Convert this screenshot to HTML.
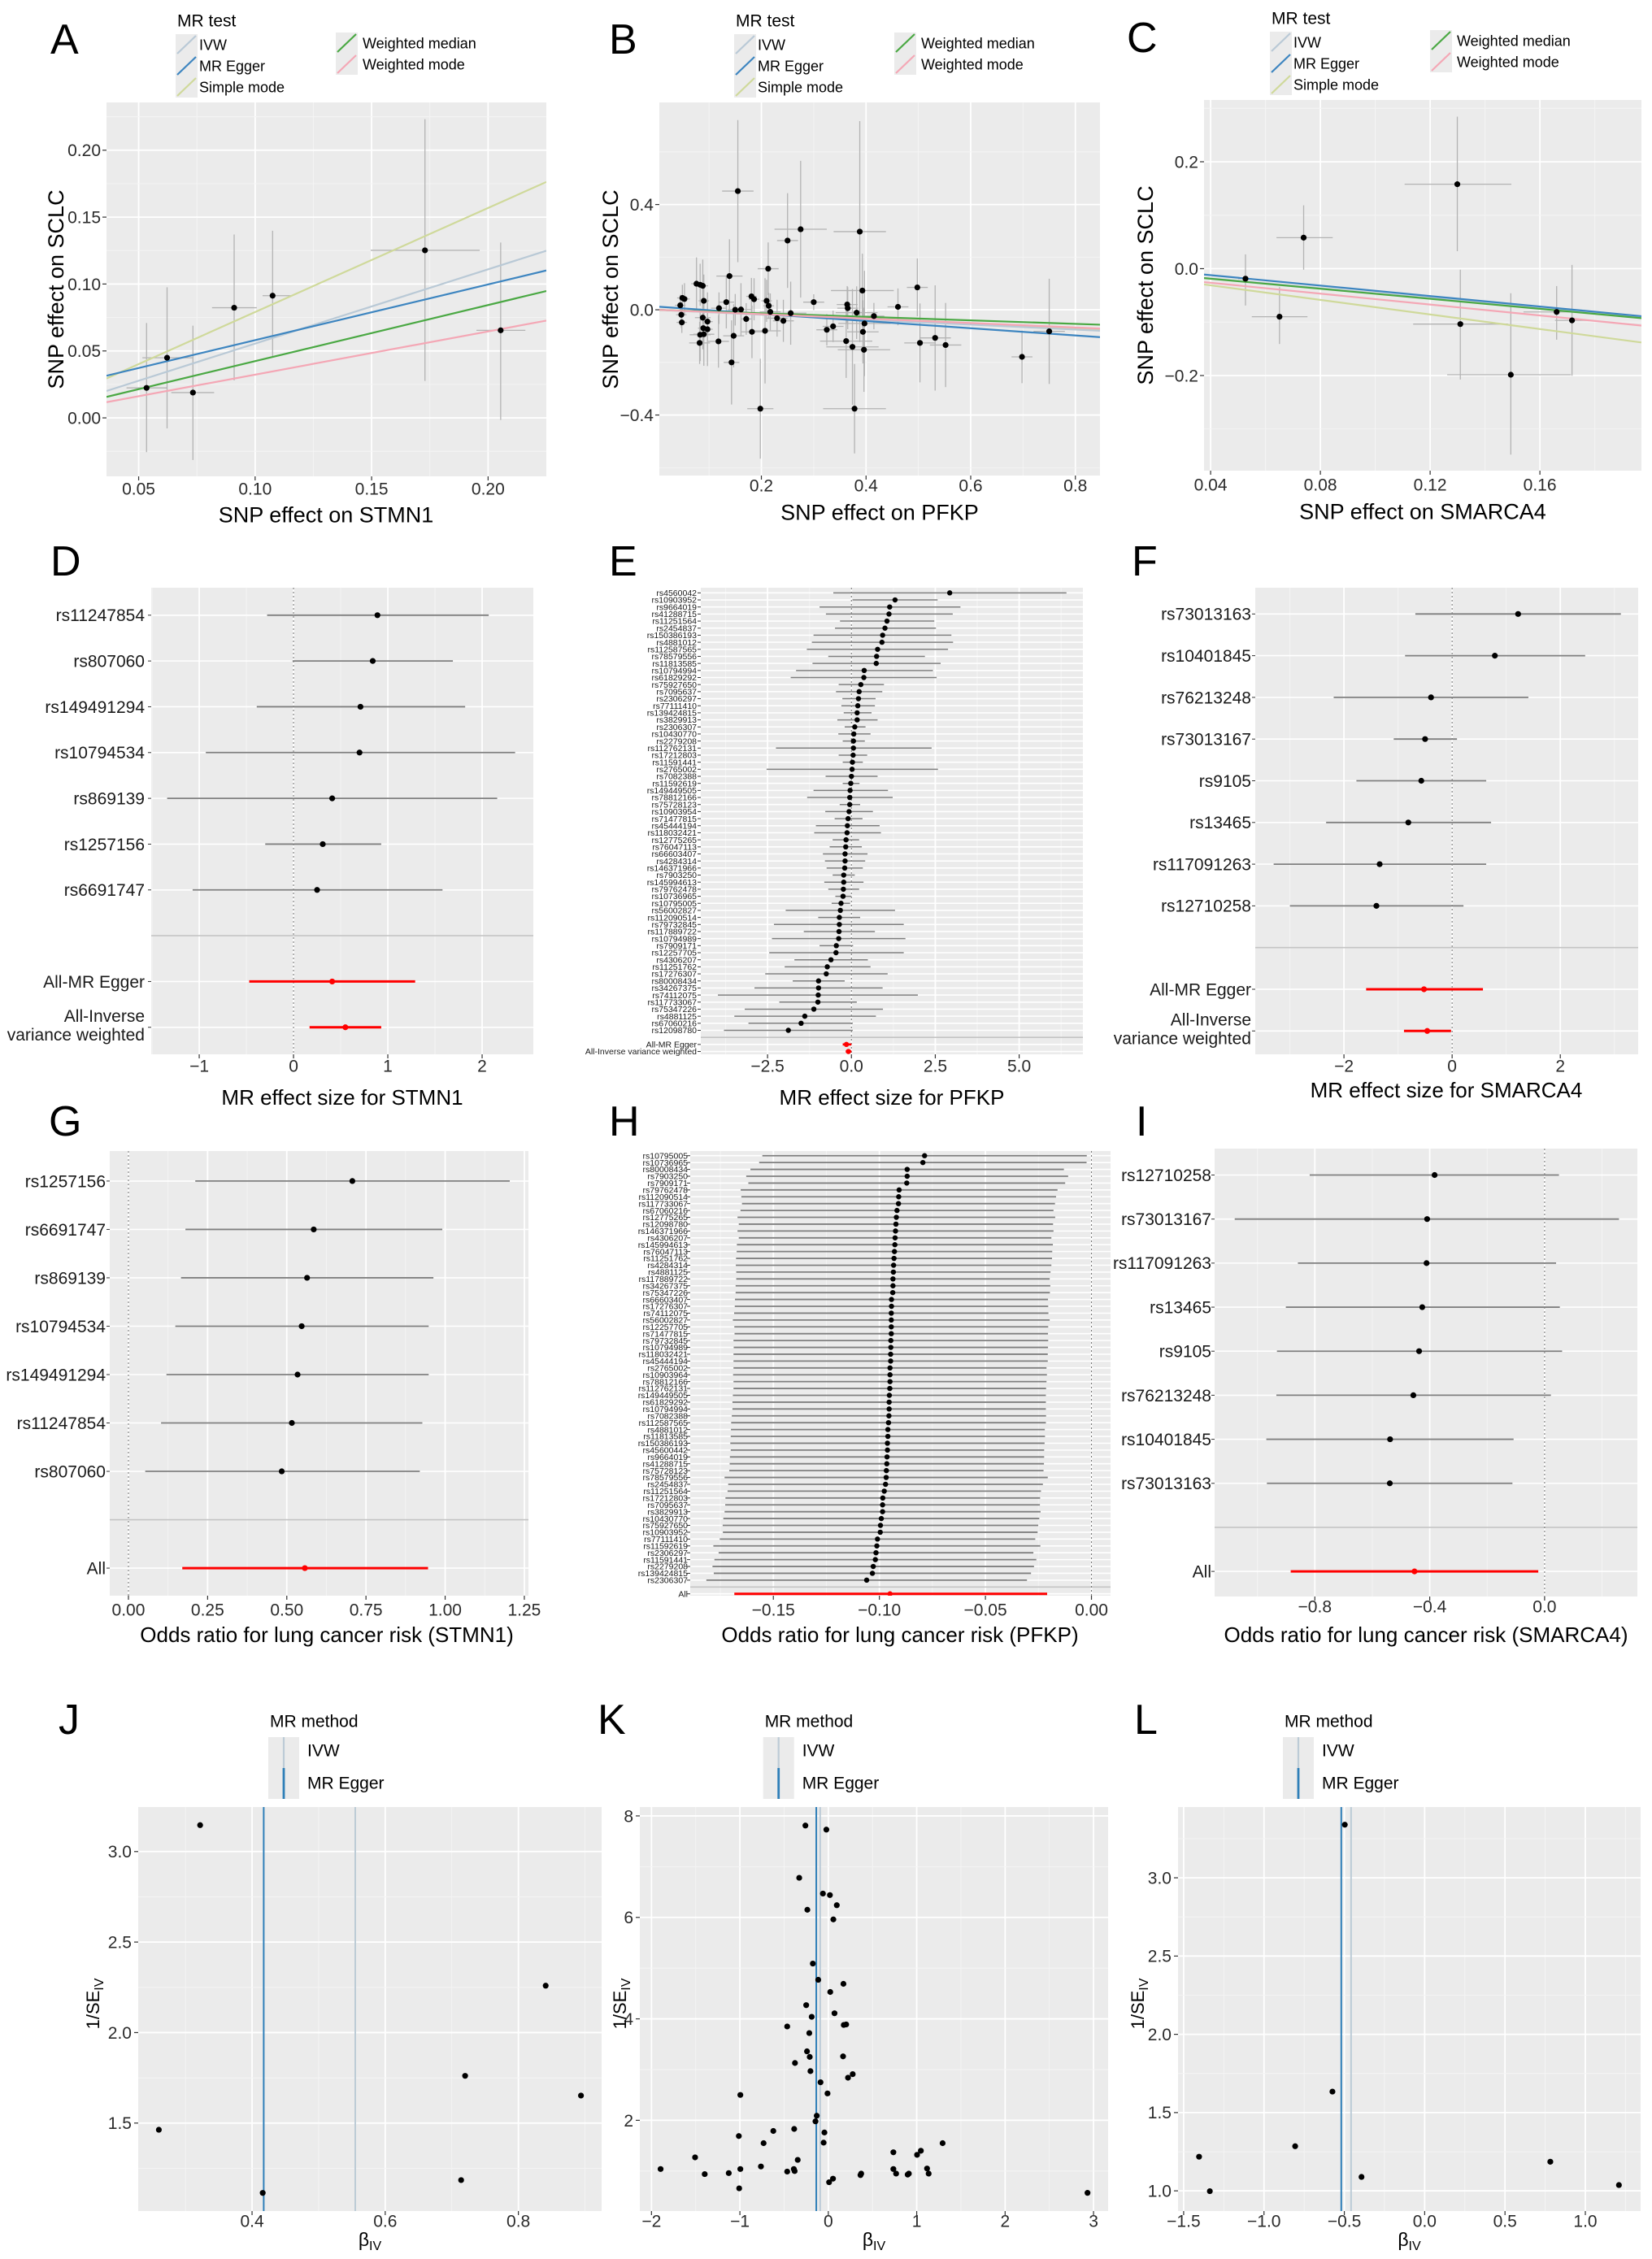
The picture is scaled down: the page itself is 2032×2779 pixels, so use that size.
<!DOCTYPE html>
<html><head><meta charset="utf-8"><title>MR analysis figure</title>
<style>
html,body{margin:0;padding:0;background:#fff;}
svg{display:block;font-family:"Liberation Sans",Arial,sans-serif;}
</style></head>
<body>
<svg id="fig" xmlns="http://www.w3.org/2000/svg" width="2032" height="2779" viewBox="0 0 2032 2779"></svg>
<script>
// ---------------- DATA ----------------
const aX=[0.0534,0.0622,0.0733,0.0910,0.1075,0.1729,0.2054];
const aY=[0.0224,0.0449,0.0189,0.0823,0.0913,0.1252,0.0654];
const aXlo=[0.0448,0.0516,0.0640,0.0815,0.1032,0.1496,0.1950];
const aXhi=[0.0624,0.0731,0.0824,0.1007,0.1160,0.1964,0.2160];
const aYlo=[-0.0256,-0.0079,-0.0315,0.028,0.0457,0.0276,-0.0016];
const aYhi=[0.0709,0.0976,0.0689,0.137,0.1398,0.2232,0.131];
const methods=["IVW","MR Egger","Simple mode","Weighted median","Weighted mode"];
const methodColors=["#b9c9d6","#3d85c0","#cfd99a","#4aa843","#f4a7b5"];
const aSlope=[0.555,0.4166,0.7777,0.419,0.323];
const aIntercept=[0,0.0164,0.0013,0.0005,0];
const bX=[0.155,0.275,0.388,0.250,0.213,0.139,0.076,0.083,0.088,0.498,0.393,0.181,0.049,0.053,0.186,0.090,0.210,0.300,0.133,0.364,0.045,0.214,0.461,0.365,0.119,0.150,0.161,0.217,0.382,0.256,0.047,0.415,0.088,0.230,0.171,0.242,0.097,0.048,0.397,0.337,0.089,0.097,0.325,0.207,0.182,0.394,0.090,0.083,0.147,0.532,0.362,0.118,0.082,0.503,0.552,0.374,0.396,0.750,0.698,0.143,0.198,0.378];
const bY=[0.451,0.306,0.297,0.263,0.156,0.128,0.099,0.095,0.091,0.085,0.073,0.051,0.045,0.041,0.040,0.034,0.034,0.029,0.029,0.020,0.017,0.015,0.011,0.006,0.006,0.000,0.001,-0.008,-0.011,-0.013,-0.019,-0.024,-0.030,-0.032,-0.035,-0.042,-0.045,-0.048,-0.052,-0.063,-0.070,-0.074,-0.076,-0.080,-0.084,-0.084,-0.093,-0.095,-0.099,-0.107,-0.119,-0.120,-0.126,-0.126,-0.134,-0.141,-0.152,-0.082,-0.179,-0.200,-0.376,-0.376];
const bSeY=[0.27,0.26,0.42,0.18,0.1,0.14,0.1,0.08,0.1,0.11,0.14,0.07,0.05,0.06,0.08,0.1,0.08,0.03,0.1,0.07,0.04,0.05,0.07,0.08,0.06,0.06,0.1,0.07,0.1,0.12,0.05,0.05,0.12,0.07,0.06,0.08,0.05,0.04,0.2,0.06,0.08,0.14,0.06,0.2,0.1,0.12,0.12,0.1,0.12,0.2,0.14,0.1,0.08,0.15,0.16,0.22,0.16,0.2,0.1,0.16,0.19,0.17];
const bSeX=[0.03,0.05,0.05,0.02,0.02,0.025,0.01,0.01,0.01,0.02,0.06,0.01,0.01,0.01,0.01,0.01,0.01,0.02,0.015,0.02,0.01,0.01,0.02,0.02,0.015,0.015,0.02,0.02,0.04,0.03,0.01,0.02,0.015,0.02,0.01,0.02,0.01,0.01,0.05,0.02,0.01,0.01,0.02,0.03,0.02,0.03,0.02,0.02,0.02,0.03,0.05,0.02,0.02,0.03,0.03,0.05,0.05,0.03,0.02,0.015,0.025,0.06];
const bSlope=[-0.094,-0.137,-0.09,-0.067,-0.084];
const bIntercept=[0,0.012,0,0,0];
const cX=[0.0527,0.0739,0.0651,0.1299,0.1310,0.1494,0.1661,0.1717];
const cY=[-0.0188,0.058,-0.0899,0.158,-0.1037,-0.1985,-0.081,-0.0968];
const cXlo=[0.050,0.064,0.055,0.1107,0.1138,0.1262,0.154,0.1655];
const cXhi=[0.055,0.0845,0.0753,0.1496,0.1483,0.1713,0.178,0.178];
const cYlo=[-0.069,-0.002,-0.141,0.0326,-0.2074,-0.348,-0.133,-0.2005];
const cYhi=[0.0267,0.1185,-0.0346,0.2844,-0.002,-0.046,-0.0326,0.007];
const cSlope=[-0.458,-0.489,-0.681,-0.47,-0.51];
const cIntercept=[0,0.0074,-0.004,0,-0.006];
const dSnps=["rs11247854","rs807060","rs149491294","rs10794534","rs869139","rs1257156","rs6691747"];
const dB=[0.89,0.84,0.71,0.70,0.41,0.31,0.25];
const dLo=[-0.28,-0.01,-0.39,-0.93,-1.34,-0.30,-1.07];
const dHi=[2.07,1.69,1.82,2.35,2.16,0.93,1.58];
const dSumB=[0.41,0.55];const dSumLo=[-0.47,0.17];const dSumHi=[1.29,0.93];
const eSnps=["rs4560042","rs10903952","rs9664019","rs41288715","rs11251564","rs2454837","rs150386193","rs4881012","rs112587565","rs78579556","rs11813585","rs10794994","rs61829292","rs75927650","rs7095637","rs2306297","rs77111410","rs139424815","rs3829913","rs2306307","rs10430770","rs2279208","rs112762131","rs17212803","rs11591441","rs2765002","rs7082388","rs11592619","rs149449505","rs78812166","rs75728123","rs10903954","rs71477815","rs45444194","rs118032421","rs12775265","rs76047113","rs66603407","rs4284314","rs146371966","rs7903250","rs145994613","rs79762478","rs10736965","rs10795005","rs56002827","rs112090514","rs79732845","rs117889722","rs10794989","rs7909171","rs12257705","rs4306207","rs11251762","rs17276307","rs80008434","rs34267375","rs74112075","rs117733067","rs75347226","rs4881125","rs67060216","rs12098780"];
const eB=[2.93,1.30,1.14,1.12,1.06,1.00,0.93,0.91,0.78,0.75,0.74,0.38,0.37,0.28,0.23,0.21,0.19,0.17,0.17,0.10,0.07,0.06,0.06,0.05,0.03,0.02,0.00,-0.02,-0.04,-0.05,-0.05,-0.07,-0.10,-0.12,-0.13,-0.16,-0.17,-0.19,-0.19,-0.20,-0.23,-0.23,-0.24,-0.25,-0.31,-0.33,-0.36,-0.36,-0.37,-0.38,-0.45,-0.46,-0.61,-0.72,-0.75,-0.98,-0.98,-0.99,-1.00,-1.12,-1.39,-1.50,-1.88];
const eLo=[-0.54,0.03,-0.95,-0.76,-0.34,-0.49,-1.13,-1.18,-1.33,-0.69,-1.16,-1.65,-1.81,-0.38,-0.46,-0.27,-0.30,-0.23,-0.42,-0.20,-0.39,-0.26,-2.25,-0.38,-0.26,-2.53,-0.77,-0.26,-1.13,-1.32,-0.35,-0.78,-0.50,-1.06,-1.11,-0.56,-0.65,-0.85,-0.79,-0.74,-0.56,-0.81,-0.69,-0.48,-0.59,-1.96,-0.99,-2.31,-1.42,-2.37,-0.95,-2.45,-1.70,-1.99,-2.57,-1.75,-2.89,-3.98,-2.15,-3.18,-3.49,-3.07,-3.80];
const eHi=[6.41,2.57,3.25,3.02,2.47,2.52,2.98,3.03,2.88,2.19,2.66,2.43,2.54,0.97,0.92,0.72,0.70,0.60,0.78,0.42,0.57,0.40,2.39,0.47,0.34,2.58,0.78,0.24,1.09,1.23,0.26,0.64,0.33,0.84,0.88,0.23,0.31,0.48,0.41,0.34,0.10,0.36,0.23,0.00,-0.04,1.30,0.26,1.56,0.70,1.61,0.05,1.56,0.49,0.57,1.08,-0.20,0.93,1.98,0.16,0.94,0.73,0.04,0.04];
const eSumB=[-0.15,-0.09];const eSumLo=[-0.26,-0.17];const eSumHi=[0.0,0.0];
const fSnps=["rs73013163","rs10401845","rs76213248","rs73013167","rs9105","rs13465","rs117091263","rs12710258"];
const fB=[1.22,0.79,-0.39,-0.50,-0.57,-0.81,-1.34,-1.40];
const fLo=[-0.68,-0.87,-2.19,-1.08,-1.77,-2.33,-3.30,-3.0];
const fHi=[3.12,2.46,1.41,0.09,0.63,0.72,0.63,0.21];
const fSumB=[-0.52,-0.46];const fSumLo=[-1.59,-0.89];const fSumHi=[0.57,-0.02];
const gSnps=["rs1257156","rs6691747","rs869139","rs10794534","rs149491294","rs11247854","rs807060"];
const gB=[0.707,0.585,0.564,0.547,0.534,0.516,0.484];
const gLo=[0.211,0.18,0.166,0.148,0.12,0.103,0.053];
const gHi=[1.204,0.991,0.963,0.948,0.948,0.928,0.92];
const gSumB=[0.557];const gSumLo=[0.17];const gSumHi=[0.946];
const hSnps=["rs10795005","rs10736965","rs80008434","rs7903250","rs7909171","rs79762478","rs112090514","rs117733067","rs67060216","rs12775265","rs12098780","rs146371966","rs4306207","rs145994613","rs76047113","rs11251762","rs4284314","rs4881125","rs117889722","rs34267375","rs75347226","rs66603407","rs17276307","rs74112075","rs56002827","rs12257705","rs71477815","rs79732845","rs10794989","rs118032421","rs45444194","rs2765002","rs10903964","rs78812166","rs112762131","rs149449505","rs61829292","rs10794994","rs7082388","rs112587565","rs4881012","rs11813585","rs150386193","rs45600442","rs9664019","rs41288715","rs75728123","rs78579556","rs2454837","rs11251564","rs17212803","rs7095637","rs3829913","rs10430770","rs75927650","rs10903952","rs77111410","rs11592619","rs2306297","rs11591441","rs2279208","rs139424815","rs2306307"];
const hB=[-0.0787,-0.0795,-0.0869,-0.0869,-0.0871,-0.0907,-0.0909,-0.0910,-0.0917,-0.0920,-0.0922,-0.0924,-0.0926,-0.0927,-0.0929,-0.0931,-0.0933,-0.0934,-0.0936,-0.0936,-0.0937,-0.0943,-0.0943,-0.0944,-0.0944,-0.0944,-0.0944,-0.0946,-0.0946,-0.0947,-0.0947,-0.0950,-0.0950,-0.0950,-0.0951,-0.0953,-0.0954,-0.0954,-0.0955,-0.0957,-0.0960,-0.0960,-0.0962,-0.0962,-0.0964,-0.0965,-0.0967,-0.0968,-0.0971,-0.0977,-0.0984,-0.0985,-0.0985,-0.0991,-0.0995,-0.0996,-0.1009,-0.1012,-0.1016,-0.1019,-0.1029,-0.1033,-0.1060];
const hHalf=[0.0765,0.0772,0.0739,0.0759,0.0747,0.0747,0.0742,0.0738,0.0738,0.0749,0.0741,0.0745,0.0737,0.0745,0.0744,0.0745,0.0744,0.0741,0.0739,0.0742,0.0741,0.0738,0.0739,0.0741,0.0747,0.0740,0.0739,0.0742,0.0741,0.0741,0.0741,0.0738,0.0740,0.0738,0.0737,0.0738,0.0739,0.0739,0.0741,0.0742,0.0740,0.0741,0.0741,0.0739,0.0741,0.0741,0.0741,0.0762,0.0742,0.0739,0.0742,0.0742,0.0745,0.0745,0.0744,0.0742,0.0744,0.0771,0.0742,0.0759,0.0758,0.0748,0.0756];
const hSumB=[-0.0950];const hSumLo=[-0.1684];const hSumHi=[-0.0209];
const iSnps=["rs12710258","rs73013167","rs117091263","rs13465","rs9105","rs76213248","rs10401845","rs73013163"];
const iB=[-0.383,-0.409,-0.411,-0.426,-0.437,-0.457,-0.538,-0.539];
const iLo=[-0.818,-1.079,-0.859,-0.901,-0.932,-0.934,-0.969,-0.967];
const iHi=[0.05,0.259,0.04,0.053,0.061,0.022,-0.108,-0.112];
const iSumB=[-0.453];const iSumLo=[-0.884];const iSumHi=[-0.022];
const jB=[0.322,0.260,0.416,0.720,0.714,0.841,0.894];
const jInv=[3.146,1.463,1.114,1.761,1.185,2.259,1.652];
const jIvw=0.555, jEgger=0.4175;
const kB=[-0.259,-0.022,-0.329,-0.061,0.018,0.096,-0.237,0.057,-0.175,-0.114,0.171,0.022,-0.250,0.070,-0.188,-0.465,0.175,0.202,-0.215,-0.241,-0.210,0.167,-0.377,-0.202,0.276,0.223,-0.088,-0.009,-0.995,-0.131,-0.145,-0.386,-0.622,-1.012,-0.044,-0.732,-0.053,1.293,0.736,1.047,1.004,-1.507,-0.346,-0.762,-1.897,-0.995,0.736,1.117,-0.465,-0.381,-0.390,-1.126,-1.398,0.767,0.911,0.898,1.135,0.372,0.364,0.053,0.009,-1.008,2.932];
const kInv=[7.81,7.73,6.78,6.47,6.44,6.24,6.15,5.96,5.09,4.77,4.69,4.53,4.27,4.11,4.04,3.85,3.88,3.89,3.72,3.36,3.25,3.26,3.13,2.97,2.91,2.84,2.75,2.53,2.50,2.09,1.98,1.83,1.79,1.69,1.76,1.55,1.56,1.55,1.37,1.40,1.32,1.27,1.22,1.09,1.04,1.04,1.04,1.05,0.99,1.00,1.04,0.96,0.94,0.95,0.95,0.93,0.95,0.95,0.92,0.85,0.78,0.66,0.57];
const kIvw=-0.092, kEgger=-0.136;
const lB=[-0.497,-0.574,-0.806,-1.404,-1.337,-0.393,0.782,1.209];
const lInv=[3.339,1.634,1.285,1.218,0.998,1.089,1.186,1.037];
const lIvw=-0.458, lEgger=-0.519;

// ---------------- HELPERS ----------------
const NS="http://www.w3.org/2000/svg";
const svg=document.getElementById("fig");
const IVW_COL="#bccbd6", EGGER_COL="#2f7fb8";
function mk(tag,name,parent){
  const e=document.createElementNS(NS,tag);
  
  
  (parent||svg).appendChild(e);
  return e;
}
function set(e,o){for(const k in o)e.setAttribute(k,o[k]);return e;}
function txt(name,x,y,s,size,anchor,parent,fill){
  const t=mk("text",name,parent);
  set(t,{x:x,y:y+size*0.35,"font-size":size,"text-anchor":anchor||"start",fill:fill||"#000"});
  t.textContent=s;return t;
}
function ln(name,x1,y1,x2,y2,stroke,w,parent){
  const l=mk("line",name,parent);
  set(l,{x1:x1,y1:y1,x2:x2,y2:y2,stroke:stroke,"stroke-width":w});return l;
}
function dot(name,x,y,r,fill,parent){
  const c=mk("circle",name,parent);set(c,{cx:x,cy:y,r:r,fill:fill});return c;
}
function fmt(v,d){const s=Math.abs(v).toFixed(d);return (v<-1e-9?"\u2212":"")+s;}
function frame(name,box,xd,yd,yDown){
  const g=mk("g",name);
  const sx=v=>box.x0+(v-xd[0])/(xd[1]-xd[0])*(box.x1-box.x0);
  const sy=yDown?(v=>box.y0+(v-yd[0])/(yd[1]-yd[0])*(box.y1-box.y0))
                :(v=>box.y1-(v-yd[0])/(yd[1]-yd[0])*(box.y1-box.y0));
  const r=mk("rect","panel-background",g);
  set(r,{x:box.x0,y:box.y0,width:box.x1-box.x0,height:box.y1-box.y0,fill:"#ebebeb"});
  const cp=mk("clipPath","clip-"+name,g);cp.setAttribute("id","clip-"+name);
  const cr=mk("rect","clip-rect",cp);set(cr,{x:box.x0,y:box.y0,width:box.x1-box.x0,height:box.y1-box.y0});
  const inner=mk("g","plot-area",g);inner.setAttribute("clip-path","url(#clip-"+name+")");
  return {g,inner,sx,sy,box};
}
function xAxis(P,major,minor,dec,labelY,size){
  const b=P.box;
  minor.forEach(v=>ln("x-minor-gridline",P.sx(v),b.y0,P.sx(v),b.y1,"#f5f5f5",0.9,P.inner));
  major.forEach(v=>{
    ln("x-major-gridline",P.sx(v),b.y0,P.sx(v),b.y1,"#ffffff",1.8,P.inner);
    ln("x-tick",P.sx(v),b.y1,P.sx(v),b.y1+5,"#333",1.2,P.g);
    txt("x-tick-label",P.sx(v),labelY,fmt(v,dec),size||21,"middle",P.g,"#2b2b2b");
  });
}
function yAxis(P,major,minor,dec,labelX,size){
  const b=P.box;
  minor.forEach(v=>ln("y-minor-gridline",b.x0,P.sy(v),b.x1,P.sy(v),"#f5f5f5",0.9,P.inner));
  major.forEach(v=>{
    ln("y-major-gridline",b.x0,P.sy(v),b.x1,P.sy(v),"#ffffff",1.8,P.inner);
    ln("y-tick",b.x0-5,P.sy(v),b.x0,P.sy(v),"#333",1.2,P.g);
    txt("y-tick-label",labelX,P.sy(v),fmt(v,dec),size||21,"end",P.g,"#2b2b2b");
  });
}
function letter(s,x,y){txt("panel-label-"+s.toLowerCase(),x,y,s,52,"start",svg);}
function yTitle(name,x,y,s,size){
  const t=mk("text",name);
  set(t,{x:0,y:0,"font-size":size,"text-anchor":"middle",transform:"translate("+x+","+y+") rotate(-90)"});
  t.textContent=s;return t;
}
function drawScatter(P,X,Y,xlo,xhi,ylo,yhi,slopes,ints,xd){
  for(let i=0;i<X.length;i++){
    ln("error-bar-y",P.sx(X[i]),P.sy(ylo[i]),P.sx(X[i]),P.sy(yhi[i]),"#b3b3b3",1.3,P.inner);
    ln("error-bar-x",P.sx(xlo[i]),P.sy(Y[i]),P.sx(xhi[i]),P.sy(Y[i]),"#b3b3b3",1.3,P.inner);
  }
  const order=[2,0,1,3,4];
  order.forEach(m=>{
    ln("fit-line-"+methods[m].toLowerCase().replace(/ /g,"-"),P.sx(xd[0]),P.sy(ints[m]+slopes[m]*xd[0]),P.sx(xd[1]),P.sy(ints[m]+slopes[m]*xd[1]),methodColors[m],2.2,P.inner);
  });
  for(let i=0;i<X.length;i++) dot("snp-point",P.sx(X[i]),P.sy(Y[i]),3.6,"#000",P.inner);
}
function mrTestLegend(dx,dy){
  const g=mk("g","legend-mr-test");
  txt("legend-title",218+dx,25+dy,"MR test",21,"start",g);
  const pos=[[216,42,245],[216,68,245],[216,94,245],[413,40,446],[413,66,446]];
  methods.forEach((m,i)=>{
    const p=pos[i];
    const k=mk("rect","legend-key",g);set(k,{x:p[0]+dx,y:p[1]+dy,width:27,height:26,fill:"#ebebeb"});
    ln("legend-key-line",p[0]+dx+2,p[1]+dy+24,p[0]+dx+25,p[1]+dy+2,methodColors[i],2.2,g);
    txt("legend-label",p[2]+dx,p[1]+dy+13,m,18,"start",g);
  });
}
function forestPanel(name,box,xd,yd,snps,B,Lo,Hi,sumB,sumLo,sumHi,sepRow,sumRows,sumLabels,major,minor,dec,labelRight,labelSize,tickY,lw,pr){
  const P=frame(name,box,xd,yd,true);
  minor.forEach(v=>ln("x-minor-gridline",P.sx(v),box.y0,P.sx(v),box.y1,"#f5f5f5",0.9,P.inner));
  major.forEach(v=>{
    ln("x-major-gridline",P.sx(v),box.y0,P.sx(v),box.y1,"#ffffff",1.8,P.inner);
    ln("x-tick",P.sx(v),box.y1,P.sx(v),box.y1+5,"#333",1.2,P.g);
    txt("x-tick-label",P.sx(v),tickY,fmt(v,dec),21,"middle",P.g,"#2b2b2b");
  });
  const rows=snps.map((s,i)=>i).concat(sumRows);
  rows.forEach(r=>{
    ln("y-gridline",box.x0,P.sy(r),box.x1,P.sy(r),"#ffffff",1.6,P.inner);
    ln("y-tick",box.x0-4,P.sy(r),box.x0,P.sy(r),"#333",1,P.g);
  });
  ln("separator-line",box.x0,P.sy(sepRow),box.x1,P.sy(sepRow),"#c4c4c4",1.6,P.inner);
  const z=ln("zero-line",P.sx(0),box.y0,P.sx(0),box.y1,"#777",1.1,P.inner);z.setAttribute("stroke-dasharray","2,3");
  for(let i=0;i<snps.length;i++){
    ln("snp-ci",P.sx(Lo[i]),P.sy(i),P.sx(Hi[i]),P.sy(i),"#7f7f7f",lw,P.inner);
    dot("snp-estimate",P.sx(B[i]),P.sy(i),pr,"#000",P.inner);
    txt("snp-label",labelRight,P.sy(i),snps[i],labelSize,"end",P.g,"#1a1a1a");
  }
  for(let j=0;j<sumB.length;j++){
    ln("summary-ci",P.sx(sumLo[j]),P.sy(sumRows[j]),P.sx(sumHi[j]),P.sy(sumRows[j]),"#ff0000",lw+1.2,P.inner);
    dot("summary-estimate",P.sx(sumB[j]),P.sy(sumRows[j]),pr,"#ff0000",P.inner);
  }
  sumLabels.forEach((lab,j)=>{
    if(Array.isArray(lab)){
      txt("summary-label",labelRight,P.sy(sumRows[j])-14,lab[0],labelSize,"end",P.g,"#1a1a1a");
      txt("summary-label",labelRight,P.sy(sumRows[j])+9,lab[1],labelSize,"end",P.g,"#1a1a1a");
    } else txt("summary-label",labelRight,P.sy(sumRows[j]),lab,labelSize,"end",P.g,"#1a1a1a");
  });
  return P;
}
function funnelPanel(name,box,xd,yd,B,Inv,ivw,egger,xmaj,xmin,xdec,ymaj,ymin,ydec){
  const P=frame(name,box,xd,yd,false);
  xAxis(P,xmaj,xmin,xdec,2732,21);
  yAxis(P,ymaj,ymin,ydec,box.x0-8,21);
  ln("ivw-line",P.sx(ivw),box.y0,P.sx(ivw),box.y1,IVW_COL,2,P.inner);
  ln("mr-egger-line",P.sx(egger),box.y0,P.sx(egger),box.y1,EGGER_COL,2,P.inner);
  for(let i=0;i<B.length;i++) dot("snp-point",P.sx(B[i]),P.sy(Inv[i]),3.6,"#000",P.inner);
  const cx=(box.x0+box.x1)/2;
  const t=mk("text","x-axis-title",P.g);set(t,{x:cx,y:2763,"font-size":23,"text-anchor":"middle"});
  t.textContent="\u03b2";
  const ts=mk("tspan","subscript",t);set(ts,{"font-size":16,dy:5});ts.textContent="IV";
  return P;
}
function funnelYTitle(x,y){
  const t=mk("text","y-axis-title");
  set(t,{x:0,y:0,"font-size":22,"text-anchor":"middle",transform:"translate("+x+","+y+") rotate(-90)"});
  t.textContent="1/SE";
  const ts=mk("tspan","subscript",t);set(ts,{"font-size":16,dy:5});ts.textContent="IV";
}
function methodLegend(dx){
  const g=mk("g","legend-mr-method");
  txt("legend-title",332+dx,2117,"MR method",21,"start",g);
  const k=mk("rect","legend-key",g);set(k,{x:330+dx,y:2137,width:38,height:76,fill:"#ebebeb"});
  ln("legend-key-ivw",349+dx,2137,349+dx,2175,IVW_COL,2.2,g);
  ln("legend-key-egger",349+dx,2175,349+dx,2213,EGGER_COL,2.8,g);
  txt("legend-label",378+dx,2153,"IVW",21,"start",g);
  txt("legend-label",378+dx,2193,"MR Egger",21,"start",g);
}

// ---------------- BUILD ----------------
letter("A",62,48);letter("B",749,48);letter("C",1386,46);
mrTestLegend(0,0);mrTestLegend(687,0);mrTestLegend(1346,-3);
const xdA=[0.0362,0.225],ydA=[-0.0437,0.2357];
const PA=frame("panel-a",{x0:131,y0:126,x1:672,y1:586},xdA,ydA,false);
xAxis(PA,[0.05,0.10,0.15,0.20],[0.075,0.125,0.175],2,601);
yAxis(PA,[0,0.05,0.10,0.15,0.20],[-0.025,0.025,0.075,0.125,0.175,0.225],2,124);
drawScatter(PA,aX,aY,aXlo,aXhi,aYlo,aYhi,aSlope,aIntercept,xdA);
txt("x-axis-title",401,633,"SNP effect on STMN1",27,"middle");
yTitle("y-axis-title",78,356,"SNP effect on SCLC",27);

const xdB=[0.005,0.847],ydB=[-0.630,0.788];
const PB=frame("panel-b",{x0:811,y0:126,x1:1353,y1:585},xdB,ydB,false);
xAxis(PB,[0.2,0.4,0.6,0.8],[0.1,0.3,0.5,0.7],1,597);
yAxis(PB,[-0.4,0,0.4],[-0.6,-0.2,0.2,0.6],1,804);
drawScatter(PB,bX,bY,bX.map((v,i)=>v-bSeX[i]),bX.map((v,i)=>v+bSeX[i]),bY.map((v,i)=>v-bSeY[i]),bY.map((v,i)=>v+bSeY[i]),bSlope,bIntercept,xdB);
txt("x-axis-title",1082,630,"SNP effect on PFKP",27,"middle");
yTitle("y-axis-title",760,356,"SNP effect on SCLC",27);

const xdC=[0.0376,0.197],ydC=[-0.378,0.3156];
const PC=frame("panel-c",{x0:1481,y0:123,x1:2019,y1:579},xdC,ydC,false);
xAxis(PC,[0.04,0.08,0.12,0.16],[0.06,0.10,0.14,0.18],2,596);
yAxis(PC,[-0.2,0,0.2],[-0.3,-0.1,0.1,0.3],1,1474);
drawScatter(PC,cX,cY,cXlo,cXhi,cYlo,cYhi,cSlope,cIntercept,xdC);
txt("x-axis-title",1750,629,"SNP effect on SMARCA4",27,"middle");
yTitle("y-axis-title",1418,351,"SNP effect on SCLC",27);

letter("D",62,690);letter("E",749,690);letter("F",1392,690);
forestPanel("panel-d",{x0:186,y0:723,x1:656,y1:1297},[-1.509,2.543],[-0.6,9.59],dSnps,dB,dLo,dHi,dSumB,dSumLo,dSumHi,7,[8,9],["All-MR Egger",["All-Inverse","variance weighted"]],[-1,0,1,2],[-1.5,-0.5,0.5,1.5],0,178,21,1311,1.8,3.6);
txt("x-axis-title",421,1350,"MR effect size for STMN1",26,"middle");
forestPanel("panel-e",{x0:862,y0:723,x1:1332,y1:1297},[-4.49,6.9],[-0.73,65.4],eSnps,eB,eLo,eHi,eSumB,eSumLo,eSumHi,63,[64,65],["All-MR Egger","All-Inverse variance weighted"],[-2.5,0,2.5,5],[-3.75,-1.25,1.25,3.75,6.25],1,857,10.5,1311,1.5,3.2);
txt("x-axis-title",1097,1350,"MR effect size for PFKP",26,"middle");
forestPanel("panel-f",{x0:1544,y0:723,x1:2015,y1:1297},[-3.64,3.44],[-0.63,10.56],fSnps,fB,fLo,fHi,fSumB,fSumLo,fSumHi,8,[9,10],["All-MR Egger",["All-Inverse","variance weighted"]],[-2,0,2],[-3,-1,1,3],0,1539,21,1311,1.8,3.6);
txt("x-axis-title",1779,1341,"MR effect size for SMARCA4",26,"middle");

letter("G",60,1379);letter("H",749,1379);letter("I",1397,1379);
forestPanel("panel-g",{x0:135,y0:1416,x1:650,y1:1963},[-0.059,1.263],[-0.62,8.57],gSnps,gB,gLo,gHi,gSumB,gSumLo,gSumHi,7,[8],["All"],[0,0.25,0.5,0.75,1.0,1.25],[0.125,0.375,0.625,0.875,1.125],2,130,21,1980,1.8,3.6);
txt("x-axis-title",402,2011,"Odds ratio for lung cancer risk (STMN1)",26,"middle");
forestPanel("panel-h",{x0:849,y0:1416,x1:1366,y1:1963},[-0.1892,0.009],[-0.68,64.27],hSnps,hB,hB.map((v,i)=>v-hHalf[i]),hB.map((v,i)=>v+hHalf[i]),hSumB,hSumLo,hSumHi,63,[64],["All"],[-0.15,-0.10,-0.05,0],[-0.175,-0.125,-0.075,-0.025],2,846,10.5,1980,1.8,3.2);
txt("x-axis-title",1107,2011,"Odds ratio for lung cancer risk (PFKP)",26,"middle");
forestPanel("panel-i",{x0:1494,y0:1413,x1:2014,y1:1964},[-1.149,0.323],[-0.6,9.57],iSnps,iB,iLo,iHi,iSumB,iSumLo,iSumHi,8,[9],["All"],[-0.8,-0.4,0],[-1.0,-0.6,-0.2,0.2],1,1490,21,1976,1.8,3.6);
txt("x-axis-title",1754,2011,"Odds ratio for lung cancer risk (SMARCA4)",26,"middle");

letter("J",72,2115);letter("K",735,2115);letter("L",1395,2115);
methodLegend(0);methodLegend(608.7);methodLegend(1248);
funnelPanel("panel-j",{x0:170,y0:2223,x1:740,y1:2720},[0.229,0.925],[1.014,3.246],jB,jInv,jIvw,jEgger,[0.4,0.6,0.8],[0.3,0.5,0.7,0.9],1,[1.5,2.0,2.5,3.0],[1.25,1.75,2.25,2.75],1);
funnelYTitle(122,2465);
funnelPanel("panel-k",{x0:787,y0:2223,x1:1363,y1:2720},[-2.132,3.165],[0.212,8.175],kB,kInv,kIvw,kEgger,[-2,-1,0,1,2,3],[-1.5,-0.5,0.5,1.5,2.5],0,[2,4,6,8],[1,3,5,7],0);
funnelYTitle(770,2465);
funnelPanel("panel-l",{x0:1449,y0:2223,x1:2018,y1:2720},[-1.535,1.344],[0.871,3.452],lB,lInv,lIvw,lEgger,[-1.5,-1.0,-0.5,0,0.5,1.0],[-1.25,-0.75,-0.25,0.25,0.75,1.25],1,[1.0,1.5,2.0,2.5,3.0],[1.25,1.75,2.25,2.75,3.25],1);
funnelYTitle(1407,2465);
</script>
</body></html>
